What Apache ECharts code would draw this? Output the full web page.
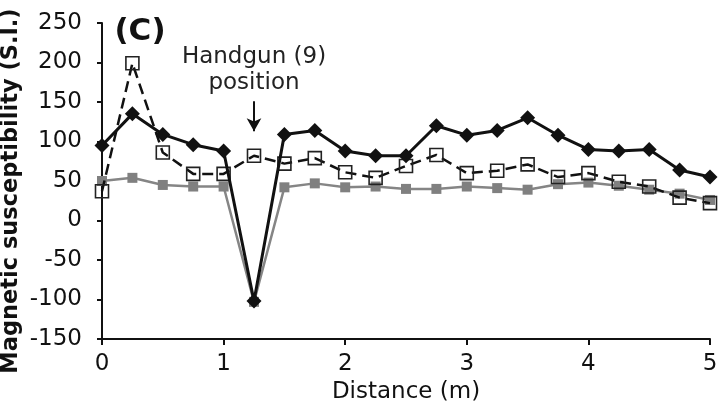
<!DOCTYPE html>
<html>
<head>
<meta charset="utf-8">
<script src="https://cdn.jsdelivr.net/npm/echarts@6/dist/echarts.min.js"></script>
<style>
  html, body { margin: 0; padding: 0; background: #fff; }
  #chart { width: 724px; height: 404px; }
</style>
</head>
<body>
<div id="chart"></div>
<script>
// Sample positions along the transect (m)
const distance = [0, 0.25, 0.5, 0.75, 1, 1.25, 1.5, 1.75, 2, 2.25, 2.5,
                  2.75, 3, 3.25, 3.5, 3.75, 4, 4.25, 4.5, 4.75, 5];

// Magnetic susceptibility readings (S.I.)
const solidBlack = [95, 135, 109, 96, 88, -102, 109, 114, 88, 82, 82,
                    120, 108, 114, 130, 108, 90, 88, 90, 64, 55];
const dashedOpen = [37, 199, 86, 59, 59, 82, 72, 79, 61, 54, 69,
                    83, 60, 63, 71, 55, 60, 49, 43, 29, 22];
const solidGrey  = [50, 54, 45, 43, 43, -103, 42, 47, 42, 43, 40,
                    40, 43, 41, 39, 46, 48, 44, 39, 34, 26];

// Axis ranges
const xRange = { min: 0, max: 5, step: 1 };
const yRange = { min: -150, max: 250, step: 50 };

// Handgun marker: arrow drawn at this distance between these values
const handgunAt = 1.25;
const arrowFrom = 151;
const arrowTo = 113;

const FONT = 'DejaVu Sans';
const pairs = vals => distance.map((d, i) => [d, vals[i]]);

const chart = echarts.init(document.getElementById('chart'), null, { renderer: 'canvas' });

chart.setOption({
  animation: false,
  backgroundColor: '#fff',
  grid: { left: 102, right: 14, top: 23, bottom: 65, containLabel: false, outerBoundsMode: 'none' },
  xAxis: {
    type: 'value',
    min: xRange.min, max: xRange.max, interval: xRange.step,
    name: 'Distance (m)',
    nameLocation: 'middle',
    nameGap: 33,
    nameTextStyle: { fontFamily: FONT, fontSize: 23, color: '#111' },
    axisLine: { show: true, onZero: false, lineStyle: { color: '#111', width: 2 } },
    axisTick: { show: true, inside: false, length: 6, lineStyle: { color: '#111', width: 2 } },
    axisLabel: { fontFamily: FONT, fontSize: 23, color: '#111', margin: 14 },
    splitLine: { show: false }
  },
  yAxis: {
    type: 'value',
    min: yRange.min, max: yRange.max, interval: yRange.step,
    axisLine: { show: true, onZero: false, lineStyle: { color: '#111', width: 2 } },
    axisTick: { show: true, inside: false, length: 5, lineStyle: { color: '#111', width: 2 } },
    axisLabel: { fontFamily: FONT, fontSize: 23, color: '#111', margin: 20 },
    splitLine: { show: false }
  },
  graphic: [
    {
      type: 'text', x: 11, y: 191, rotation: Math.PI / 2,
      style: {
        text: 'Magnetic susceptibility (S.I.)',
        fontFamily: FONT, fontSize: 22.5, fontWeight: 'bold', fill: '#111',
        align: 'center', verticalAlign: 'middle'
      }
    },
    {
      type: 'text', x: 140, y: 32,
      style: {
        text: '(C)', fontFamily: FONT, fontSize: 31, fontWeight: 'bold', fill: '#111',
        align: 'center', verticalAlign: 'middle'
      }
    },
    {
      type: 'text', x: 254, y: 70,
      style: {
        text: 'Handgun (9)\nposition', fontFamily: FONT, fontSize: 23, lineHeight: 26,
        fill: '#222', align: 'center', verticalAlign: 'middle'
      }
    }
  ],
  series: [
    {
      name: 'grey', type: 'line', data: pairs(solidGrey), z: 2,
      symbol: 'rect', symbolSize: 10,
      lineStyle: { color: '#858585', width: 2.5 },
      itemStyle: { color: '#808080' }
    },
    {
      name: 'dashed', type: 'line', data: pairs(dashedOpen), z: 3,
      symbol: 'rect', symbolSize: 13,
      lineStyle: { color: '#111', width: 2.5, type: [11, 6] },
      itemStyle: { color: 'rgba(255,255,255,0)', borderColor: '#222', borderWidth: 1.6 }
    },
    {
      name: 'solid', type: 'line', data: pairs(solidBlack), z: 4,
      symbol: 'diamond', symbolSize: 15,
      lineStyle: { color: '#111', width: 3 },
      itemStyle: { color: '#111' },
      markLine: {
        silent: true,
        symbol: ['none', 'arrow'],
        symbolSize: [11, 13],
        label: { show: false },
        lineStyle: { color: '#111', width: 2, type: 'solid' },
        data: [[{ coord: [handgunAt, arrowFrom] }, { coord: [handgunAt, arrowTo] }]]
      }
    }
  ]
});
</script>
</body>
</html>
